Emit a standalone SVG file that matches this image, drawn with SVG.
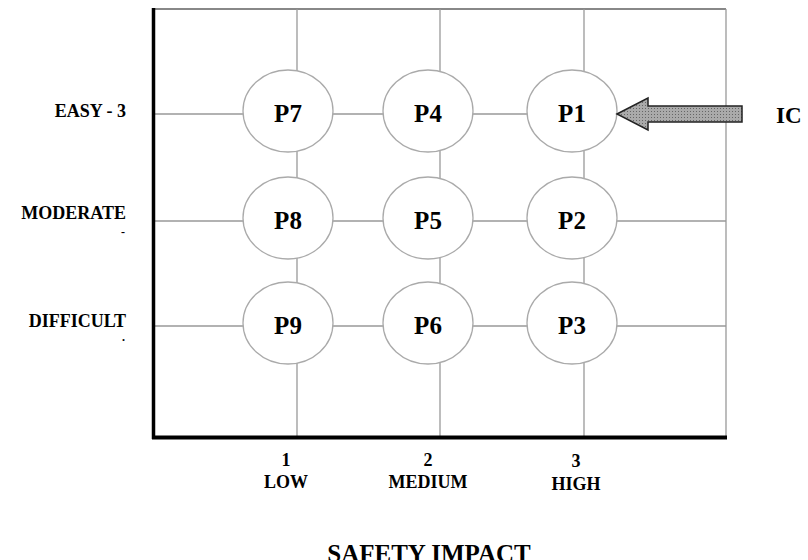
<svg xmlns="http://www.w3.org/2000/svg" width="808" height="560" viewBox="0 0 808 560">
<defs>
<pattern id="dots" width="3" height="3" patternUnits="userSpaceOnUse">
<rect width="3" height="3" fill="#aaa"/>
<rect width="1" height="1" fill="#666"/>
</pattern>
</defs>
<style>
.g{stroke:#999;stroke-width:1.3;fill:none}
.n ellipse{fill:#fff;stroke:#aaa;stroke-width:1.3}
.n text{font-family:"Liberation Serif",serif;font-weight:bold;font-size:25px;text-anchor:middle}
.lbl{font-family:"Liberation Serif",serif;font-weight:bold;font-size:18px}
.ax{font-family:"Liberation Serif",serif;font-weight:bold;font-size:18px;text-anchor:middle}
</style>
<rect width="808" height="560" fill="#fff"/>
<g id="grid">
<line class="g" x1="153" y1="9" x2="726" y2="9" style="stroke:#888;stroke-width:1.8"/>
<line class="g" x1="726" y1="9" x2="726" y2="437"/>
<line class="g" x1="297" y1="9" x2="297" y2="437"/>
<line class="g" x1="440" y1="9" x2="440" y2="437"/>
<line class="g" x1="584" y1="9" x2="584" y2="437"/>
<line class="g" x1="153" y1="114" x2="726" y2="114"/>
<line class="g" x1="153" y1="221" x2="726" y2="221"/>
<line class="g" x1="153" y1="326" x2="726" y2="326"/>
<line x1="153.5" y1="8" x2="153.5" y2="439" stroke="#000" stroke-width="3.5"/>
<line x1="152" y1="437.5" x2="727" y2="437.5" stroke="#000" stroke-width="4"/>
</g>
<g id="P7" class="n"><ellipse cx="288" cy="111" rx="45" ry="41"/><text x="288" y="122">P7</text></g>
<g id="P4" class="n"><ellipse cx="428" cy="111" rx="45" ry="41"/><text x="428" y="122">P4</text></g>
<g id="P1" class="n"><ellipse cx="572" cy="111" rx="45" ry="41"/><text x="572" y="122">P1</text></g>
<g id="P8" class="n"><ellipse cx="288" cy="218" rx="45" ry="41"/><text x="288" y="229">P8</text></g>
<g id="P5" class="n"><ellipse cx="428" cy="218" rx="45" ry="41"/><text x="428" y="229">P5</text></g>
<g id="P2" class="n"><ellipse cx="572" cy="218" rx="45" ry="41"/><text x="572" y="229">P2</text></g>
<g id="P9" class="n"><ellipse cx="288" cy="323" rx="45" ry="41"/><text x="288" y="334">P9</text></g>
<g id="P6" class="n"><ellipse cx="428" cy="323" rx="45" ry="41"/><text x="428" y="334">P6</text></g>
<g id="P3" class="n"><ellipse cx="572" cy="323" rx="45" ry="41"/><text x="572" y="334">P3</text></g>
<g id="arrow">
<polygon points="617,114 648,98 648,106 742,106 742,122 648,122 648,130" fill="url(#dots)" stroke="#222" stroke-width="1.5"/>
</g>
<text x="776" y="123" style="font-family:'Liberation Serif',serif;font-weight:bold;font-size:23px">IC</text>
<g id="ylabels" class="lbl" text-anchor="end">
<text x="126" y="117">EASY - 3</text>
<text x="126" y="219">MODERATE</text>
<text x="125" y="236" style="font-size:12px">-</text>
<text x="125" y="341" style="font-size:12px">.</text>
<text x="126" y="327">DIFFICULT</text>
</g>
<g id="xlabels" class="ax">
<text x="286" y="466">1</text>
<text x="286" y="488">LOW</text>
<text x="428" y="466">2</text>
<text x="428" y="488">MEDIUM</text>
<text x="576" y="467">3</text>
<text x="576" y="490">HIGH</text>
</g>
<text x="429" y="562" style="font-family:'Liberation Serif',serif;font-weight:bold;font-size:25px;text-anchor:middle">SAFETY IMPACT</text>
</svg>
